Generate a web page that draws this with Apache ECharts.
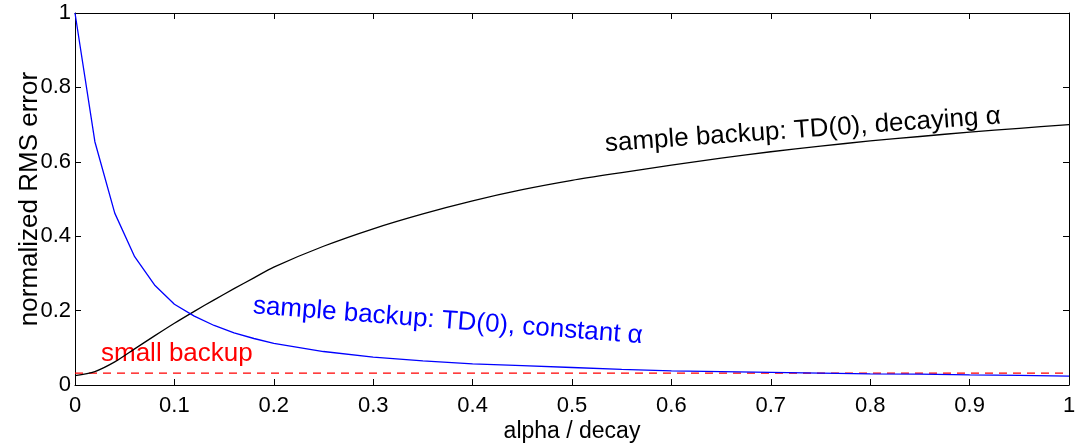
<!DOCTYPE html>
<html>
<head>
<meta charset="utf-8">
<script src="https://cdn.jsdelivr.net/npm/echarts@6/dist/echarts.min.js"></script>
<style>html,body{margin:0;padding:0;background:#fff}#c{width:1076px;height:447px}</style>
</head>
<body>
<div id="c"></div>
<script>
// x positions (alpha / decay)
const xs = [0, 0.02, 0.04, 0.06, 0.08, 0.10, 0.12, 0.14, 0.16, 0.18, 0.20,
            0.25, 0.30, 0.35, 0.40, 0.45, 0.50, 0.55, 0.60, 0.65, 0.70,
            0.75, 0.80, 0.85, 0.90, 0.95, 1.00];
// sample backup: TD(0), constant alpha (blue)
const constantAlpha = [1.0, 0.654, 0.462, 0.345, 0.269, 0.217, 0.185, 0.160, 0.140, 0.125, 0.112,
                       0.090, 0.075, 0.065, 0.057, 0.052, 0.047, 0.042, 0.038, 0.036, 0.034,
                       0.032, 0.030, 0.029, 0.027, 0.026, 0.024];
// sample backup: TD(0), decaying alpha (black)
const decayingAlpha = [0.025, 0.036, 0.062, 0.097, 0.132, 0.166, 0.198, 0.229, 0.259, 0.288, 0.317,
                       0.373, 0.420, 0.460, 0.495, 0.525, 0.550, 0.571, 0.591, 0.610, 0.627,
                       0.642, 0.656, 0.668, 0.680, 0.690, 0.700];
// small backup (red dashed, constant)
const smallBackupX = [0, 1];
const smallBackup = [0.032, 0.032];

const xTicks = [0, 0.1, 0.2, 0.3, 0.4, 0.5, 0.6, 0.7, 0.8, 0.9, 1];
const yTicks = [0, 0.2, 0.4, 0.6, 0.8, 1];

const FONT = 'Liberation Sans, Arial, Helvetica, sans-serif';
const pair = (a, b) => a.map((v, i) => [v, b[i]]);
const fmt = v => (v === 0 || v === 1) ? String(v) : String(+v.toFixed(1));

const axisBase = {
  min: 0, max: 1, interval: 0.1,
  axisLine: {show: true, onZero: false, lineStyle: {color: '#000', width: 1}},
  axisTick: {show: true, inside: true, length: 6, lineStyle: {color: '#000', width: 1}},
  splitLine: {show: false}
};

const chart = echarts.init(document.getElementById('c'), null, {renderer: 'canvas'});
chart.setOption({
  animation: false,
  backgroundColor: '#fff',
  grid: {left: 75, right: 7, top: 13, bottom: 62, containLabel: false, outerBoundsMode: 'none'},
  xAxis: [
    Object.assign({}, axisBase, {
      type: 'value', position: 'bottom',
      name: 'alpha / decay', nameLocation: 'middle', nameGap: 35, nameMoveOverlap: false,
      nameTextStyle: {fontFamily: FONT, fontSize: 23, color: '#000'},
      axisLabel: {show: true, margin: 10, fontFamily: FONT, fontSize: 22, color: '#000', formatter: fmt}
    }),
    Object.assign({}, axisBase, {
      type: 'value', position: 'top', axisLabel: {show: false}
    })
  ],
  yAxis: [
    Object.assign({}, axisBase, {
      type: 'value', position: 'left', interval: 0.2,
      name: 'normalized RMS error', nameLocation: 'middle', nameGap: 32, nameMoveOverlap: false,
      nameTextStyle: {fontFamily: FONT, fontSize: 26, color: '#000'},
      axisLabel: {show: true, margin: 4, fontFamily: FONT, fontSize: 22, color: '#000', formatter: fmt}
    }),
    Object.assign({}, axisBase, {
      type: 'value', position: 'right', interval: 0.2, axisLabel: {show: false}
    })
  ],
  series: [
    {
      type: 'line', name: 'small backup', data: pair(smallBackupX, smallBackup),
      showSymbol: false, symbol: 'none',
      lineStyle: {color: '#ff0000', width: 1.2, type: [8, 6]}, z: 2
    },
    {
      type: 'line', name: 'decaying', data: pair(xs, decayingAlpha),
      showSymbol: false, symbol: 'none', smooth: 0.3,
      lineStyle: {color: '#000', width: 1.3}, z: 3
    },
    {
      type: 'line', name: 'constant', data: pair(xs, constantAlpha),
      showSymbol: false, symbol: 'none', smooth: false,
      lineStyle: {color: '#0000ff', width: 1.3}, z: 4
    }
  ],
  graphic: [
    {
      type: 'text', x: 101, y: 367,
      style: {text: 'small backup', fill: '#ff0000', font: '26px ' + FONT,
              textAlign: 'left', textVerticalAlign: 'bottom'}
    },
    {
      type: 'text', x: 252, y: 319, rotation: -0.077,
      style: {text: 'sample backup: TD(0), constant α', fill: '#0000ff', font: '26px ' + FONT,
              textAlign: 'left', textVerticalAlign: 'bottom'}
    },
    {
      type: 'text', x: 606, y: 157, rotation: 0.07,
      style: {text: 'sample backup: TD(0), decaying α', fill: '#000', font: '26px ' + FONT,
              textAlign: 'left', textVerticalAlign: 'bottom'}
    }
  ]
});
</script>
</body>
</html>
